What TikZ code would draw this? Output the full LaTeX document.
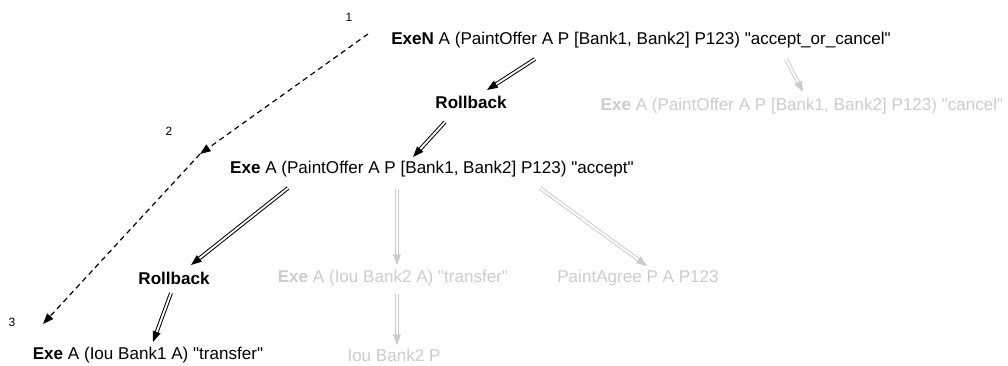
\documentclass[tikz,border=0pt]{standalone}
\usepackage{fontspec}
\setmainfont{Liberation Sans}[Ligatures=TeXOff]
\usepackage{xcolor}
\usetikzlibrary{arrows.meta,calc}
\definecolor{stepblack}{RGB}{0,0,0}
\definecolor{stepgray}{RGB}{204,204,204}

\tikzset{
  txt/.style={inner sep=0pt, font=\fontsize{12.8}{15}\selectfont},
  numlabel/.style={inner sep=0pt, font=\fontsize{9}{11}\selectfont},
  dblarrow/.style={double, double distance=1.4pt, line width=0.75pt,
    -{Triangle[length=8pt,width=6pt]}},
  trailarrow/.style={dashed, dash pattern=on 4pt off 3pt, line width=0.9pt,
    -{Triangle[length=8pt,width=6pt]}}
}

\begin{document}
\begin{tikzpicture}[x=0.75pt, y=-0.75pt]

% 0. CANVAS
\useasboundingbox (0,0) rectangle (1008,365);

% 1. ACTIVE PATH (black)
\node[txt] (exen) at (641,40) {\textbf{ExeN} A (PaintOffer A P [Bank1, Bank2] P123) "accept\_or\_cancel"};
\node[txt, font=\fontsize{12.8}{15}\selectfont\bfseries] (rb1) at (471,102) {Rollback};
\node[txt] (accept) at (432,169) {\textbf{Exe} A (PaintOffer A P [Bank1, Bank2] P123) "accept"};
\node[txt, font=\fontsize{12.8}{15}\selectfont\bfseries] (rb2) at (174,278) {Rollback};
\node[txt] (iou1) at (148,355) {\textbf{Exe} A (Iou Bank1 A) "transfer"};

% 2. INACTIVE BRANCHES (gray)
\node[txt, text=stepgray] (cancel) at (802,106) {\textbf{Exe} A (PaintOffer A P [Bank1, Bank2] P123) "cancel"};
\node[txt, text=stepgray] (iou2x) at (393,278) {\textbf{Exe} A (Iou Bank2 A) "transfer"};
\node[txt, text=stepgray] (agree) at (638,278) {PaintAgree P A P123};
\node[txt, text=stepgray] (iou2p) at (394,355) {Iou Bank2 P};

% Step numbers
\node[numlabel] (n1) at (349,17) {1};
\node[numlabel] (n2) at (169,131) {2};
\node[numlabel] (n3) at (12,322) {3};

% 3. ARROWS
\draw[dblarrow] ($(exen)+(-106,19)$) -- ($(rb1)+(16,-12)$);
\draw[dblarrow] ($(rb1)+(-26,20)$) -- ($(accept)+(-19,-12)$);
\draw[dblarrow] ($(accept)+(-144,19)$) -- ($(rb2)+(17,-13)$);
\draw[dblarrow] ($(rb2)+(-3,15)$) -- ($(iou1)+(5,-13)$);

\draw[dblarrow, stepgray] ($(exen)+(145,19)$) -- ($(cancel)+(1,-14)$);
\draw[dblarrow, stepgray] ($(accept)+(-35,20)$) -- ($(iou2x)+(4,-13)$);
\draw[dblarrow, stepgray] ($(iou2x)+(4,16)$) -- ($(iou2p)+(3,-10)$);
\draw[dblarrow, stepgray] ($(accept)+(108,19)$) -- ($(agree)+(9,-12)$);

% Trail of steps
\coordinate (t1) at ($(n1)+(19,17)$);
\coordinate (t2) at ($(n2)+(31,23)$);
\coordinate (t3) at ($(n3)+(31,2)$);
\draw[trailarrow] (t1) -- (t2);
\draw[trailarrow] (t2) -- (t3);

\end{tikzpicture}
\end{document}
